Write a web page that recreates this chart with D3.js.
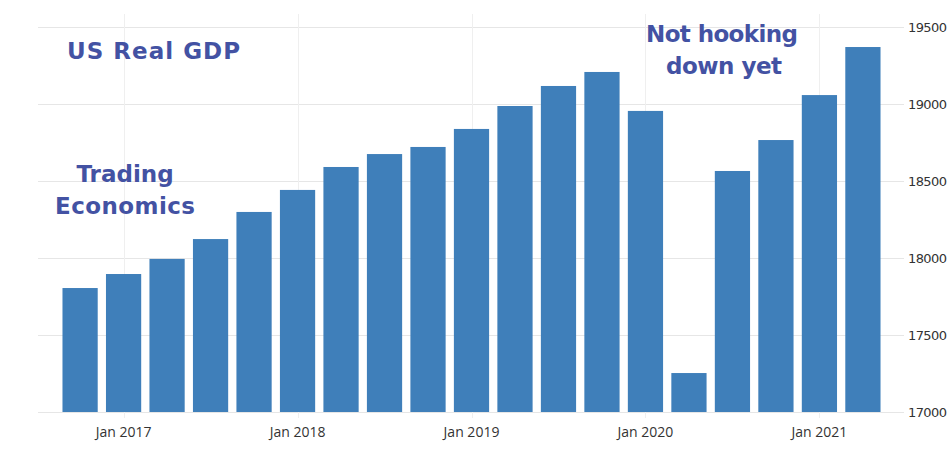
<!DOCTYPE html>
<html>
<head>
<meta charset="utf-8">
<script src="https://cdn.jsdelivr.net/npm/d3@7"></script>
<style>
  body { margin: 0; background: #fff; }
  svg { display: block; }
</style>
</head>
<body>
<script>
// quarters, Q4 2016 .. Q2 2021
var quarters = ["2016Q4","2017Q1","2017Q2","2017Q3","2017Q4","2018Q1","2018Q2","2018Q3","2018Q4",
                "2019Q1","2019Q2","2019Q3","2019Q4","2020Q1","2020Q2","2020Q3","2020Q4","2021Q1","2021Q2"];
var gdp = [17805,17896,17994,18123,18299,18442,18591,18675,18721,
           18838,18987,19117,19208,18955,17253,18565,18766,19058,19370];
var yTicks = [17000,17500,18000,18500,19000,19500];
var xTicks = ["2017Q1","2018Q1","2019Q1","2020Q1","2021Q1"];
var xTickLabels = ["Jan 2017","Jan 2018","Jan 2019","Jan 2020","Jan 2021"];

var W = 952, H = 451;
var svg = d3.select("body").append("svg")
    .attr("width", W)
    .attr("height", H)

var x = d3.scaleBand()
    .domain(quarters)
    .range([59, 884])
    .paddingInner(0.19)
    .paddingOuter(0.08)

var y = d3.scaleLinear()
    .domain([17000, 19500])
    .range([412, 27])

var grid = svg.append("g")

// horizontal grid
grid.selectAll(".hg")
  .data(yTicks)
  .enter()
  .append("line")
    .attr("x1", 38)
    .attr("x2", 904)
    .attr("y1", d => y(d) + 0.5)
    .attr("y2", d => y(d) + 0.5)
    .style("stroke", "#e6e6e6")
    .style("stroke-width", 1)

// vertical grid at Jan quarters
grid.selectAll(".vg")
  .data(xTicks)
  .enter()
  .append("line")
    .attr("x1", d => Math.round(x(d) + x.bandwidth() / 2) + 0.5)
    .attr("x2", d => Math.round(x(d) + x.bandwidth() / 2) + 0.5)
    .attr("y1", 14)
    .attr("y2", 418)
    .style("stroke", "#efefef")
    .style("stroke-width", 1)

// bars
svg.append("g").selectAll("rect")
  .data(gdp)
  .enter()
  .append("rect")
    .attr("x", (d, i) => x(quarters[i]))
    .attr("width", x.bandwidth())
    .attr("y", d => y(d))
    .attr("height", d => y(17000) - y(d))
    .style("fill", "#3f7fba")

// right axis labels
svg.append("g").selectAll("text")
  .data(yTicks)
  .enter()
  .append("text")
    .attr("x", 908)
    .attr("y", d => y(d) + 5)
    .text(d => d)
    .attr("font-family", "DejaVu Sans, sans-serif")
    .attr("font-size", "13px")
    .attr("letter-spacing", "-0.6")
    .attr("fill", "#333")

// bottom labels
svg.append("g").selectAll("text")
  .data(xTicks)
  .enter()
  .append("text")
    .attr("x", d => x(d) + x.bandwidth() / 2)
    .attr("y", 437)
    .attr("text-anchor", "middle")
    .text((d, i) => xTickLabels[i])
    .attr("font-family", "Open Sans, sans-serif")
    .attr("font-size", "14px")
    .attr("fill", "#333")

// annotations
var note = svg.append("g")
    .attr("font-family", "DejaVu Sans, sans-serif")
    .attr("font-weight", "bold")
    .attr("fill", "#4352a3")

note.append("text").attr("x", 67).attr("y", 59)
    .attr("font-size", "23px")
    .attr("textLength", 173)
    .text("US Real GDP")

note.append("text").attr("x", 125).attr("y", 182)
    .attr("text-anchor", "middle")
    .attr("font-size", "23px")
    .text("Trading")

note.append("text").attr("x", 125).attr("y", 214)
    .attr("text-anchor", "middle")
    .attr("font-size", "23px")
    .attr("textLength", 140)
    .text("Economics")

note.append("text").attr("x", 722).attr("y", 42)
    .attr("text-anchor", "middle")
    .attr("font-size", "23px")
    .attr("textLength", 152)
    .text("Not hooking")

note.append("text").attr("x", 724).attr("y", 74)
    .attr("text-anchor", "middle")
    .attr("font-size", "23px")
    .attr("textLength", 116)
    .text("down yet")
</script>
</body>
</html>
